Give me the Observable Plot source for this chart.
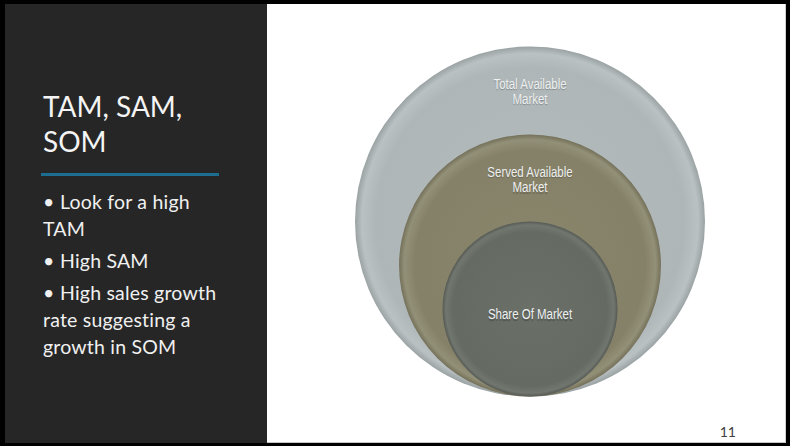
<!DOCTYPE html>
<html>
<head>
<meta charset="utf-8">
<script src="https://cdn.jsdelivr.net/npm/d3@7"></script>
<script src="https://cdn.jsdelivr.net/npm/@observablehq/plot@0.6"></script>
<style>
  html, body { margin: 0; padding: 0; background: #000; }
  body { width: 790px; height: 446px; position: relative; overflow: hidden; font-family: Lato, "Open Sans", sans-serif; }
  #panel { position: absolute; left: 5px; top: 4px; width: 262px; height: 439px; background: #262626; }
  #white { position: absolute; left: 267px; top: 4px; width: 518px; height: 438px; background: #fff; border-right: 1px solid #d0d0d0; border-bottom: 1px solid #c8c8c8; }
  #title { position: absolute; left: 43px; top: 89px; color: #f4f4f4; font-size: 28px; line-height: 35px; white-space: nowrap; }
  #rule { position: absolute; left: 41px; top: 173px; width: 178px; height: 3px; background: #1b6e92; }
  #bullets { position: absolute; left: 43px; top: 188px; color: #f0f0f0; font-size: 19.5px; line-height: 27px; white-space: nowrap; letter-spacing: 0.2px; }
  #bullets p { margin: 0 0 5px 0; }
  #bullets .b { display: inline-block; width: 17px; }
  #pagenum { position: absolute; right: 54px; top: 423px; color: #404040; font-size: 14px; }
  #chart { position: absolute; left: 267px; top: 4px; }
</style>
</head>
<body>
<div id="panel"></div>
<div id="white"></div>
<div id="title">TAM, SAM,<br>SOM</div>
<div id="rule"></div>
<div id="bullets">
  <p><span class="b">•</span>Look for a high<br>TAM</p>
  <p><span class="b">•</span>High SAM</p>
  <p><span class="b">•</span>High sales growth<br>rate suggesting a<br>growth in SOM</p>
</div>
<div id="pagenum">11</div>
<div id="chart"></div>
<script>
// Data
const markets = ["Total Available\nMarket", "Served Available\nMarket", "Share Of Market"];
const sizes = [100, 56, 25];

const rows = markets.map((label, i) => ({label, size: sizes[i], idx: i}));
const unit = s => Math.sqrt(s / 100); // radius in units of the outer circle
const labelFont = "'Liberation Sans', Arial, sans-serif";

const plot = Plot.plot({
  width: 519,
  height: 439,
  margin: 0,
  x: {domain: [-1.5, 1.4657], axis: null},
  y: {domain: [-0.2686, 2.24], axis: null},
  r: {type: "sqrt", domain: [0, 100], range: [0, 175]},
  color: {type: "identity"},
  marks: [
    Plot.dot(rows, {
      x: () => 0,
      y: d => unit(d.size),
      r: "size",
      fill: d => `url(#grad${d.idx})`,
      stroke: "none",
      sort: null,
      style: {filter: "drop-shadow(0px 3px 3px rgba(0,0,0,0.28))"}
    }),
    Plot.text(rows, {
      filter: d => d.idx < 2,
      x: () => 0,
      y: d => 2 * unit(d.size),
      text: "label",
      lineAnchor: "top",
      dy: 32,
      lineHeight: 1.08,
      fontSize: 14,
      fontFamily: labelFont,
      fill: "#eef0f0"
    }),
    Plot.text(rows, {
      filter: d => d.idx === 2,
      x: () => 0,
      y: d => unit(d.size),
      text: "label",
      lineAnchor: "middle",
      dy: 6,
      fontSize: 14,
      fontFamily: labelFont,
      fill: "#eef0f0"
    })
  ]
});

// Gradients for the 3D-like circle shading
const gradStops = [
  [["0%", "#b3bbbd"], ["88%", "#aeb6b8"], ["96%", "#bac1c3"], ["100%", "#9aa2a4"]],
  [["0%", "#8a866c"], ["88%", "#858168"], ["96%", "#939078"], ["100%", "#747059"]],
  [["0%", "#6a6f68"], ["88%", "#656a63"], ["96%", "#71766f"], ["100%", "#555a54"]]
];
const svg = d3.select(plot);
const defs = svg.insert("defs", ":first-child");
gradStops.forEach((stops, i) => {
  const g = defs.append("radialGradient").attr("id", `grad${i}`).attr("cx", "50%").attr("cy", "50%").attr("r", "50%");
  stops.forEach(([o, c]) => g.append("stop").attr("offset", o).attr("stop-color", c));
});
// Narrow (Arial Narrow-like) label text: squeeze horizontally around each anchor
svg.selectAll("text").each(function() {
  const t = this.getAttribute("transform") || "";
  this.setAttribute("transform", t + " scale(0.82,1)");
}).style("text-shadow", "0 1px 1px rgba(0,0,0,0.25)");
document.getElementById("chart").appendChild(plot);
</script>
</body>
</html>
